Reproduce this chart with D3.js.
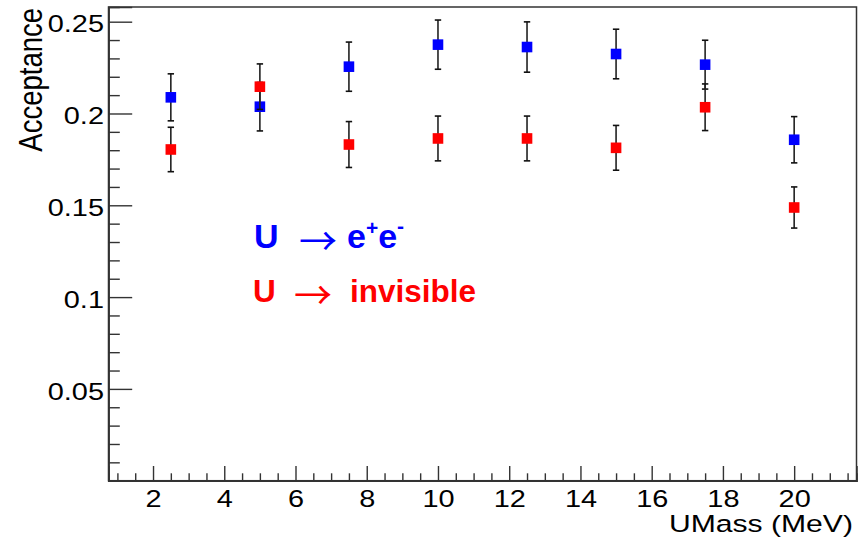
<!DOCTYPE html>
<html>
<head>
<meta charset="utf-8">
<script src="https://cdn.jsdelivr.net/npm/d3@7"></script>
<style>
  html, body { margin: 0; padding: 0; background: #fff; }
  svg { display: block; }
  text { font-family: "Liberation Sans", Arial, Helvetica, sans-serif; }
</style>
</head>
<body>
<svg id="chart" width="867" height="540"></svg>
<script>
// ---- data ----
const masses = [2.5, 5, 7.5, 10, 12.5, 15, 17.5, 20];
const eeAcc  = [0.2088, 0.2037, 0.2255, 0.2375, 0.2362, 0.2324, 0.2266, 0.1857];
const eeErr  = [0.0128, 0.0132, 0.0134, 0.0134, 0.0137, 0.0135, 0.0133, 0.0126];
const invAcc = [0.1804, 0.2146, 0.1831, 0.1864, 0.1864, 0.1813, 0.2034, 0.1488];
const invErr = [0.0121, 0.0124, 0.0125, 0.0122, 0.0122, 0.0122, 0.0127, 0.0112];
const xMajorTicks = [2, 4, 6, 8, 10, 12, 14, 16, 18, 20];
const yMajorTicks = [0.05, 0.1, 0.15, 0.2, 0.25];
const yTickLabels = ["0.05", "0.1", "0.15", "0.2", "0.25"];
const xTitle = "UMass (MeV)";
const yTitle = "Acceptance";

// ---- layout ----
const L = 108.5, R = 856.5, T = 7, B = 480.7;
const stretch = 1.23;
const svg = d3.select("#chart");

const x = d3.scaleLinear().domain([0.75, 21.75]).range([L, R]);
const y = d3.scaleLinear().domain([0, 0.258]).range([B, T]);

const xMinor = d3.range(1, 21.51, 0.5).filter(v => Math.abs(v / 2 - Math.round(v / 2)) > 1e-6);
const yMinor = d3.range(0.01, 0.2551, 0.01).filter(v => Math.abs(v / 0.05 - Math.round(v / 0.05)) > 1e-6);

// frame
svg.append("rect")
  .attr("x", L).attr("y", T).attr("width", R - L).attr("height", B - T)
  .attr("fill", "none").attr("stroke", "#333").attr("stroke-width", 1.5);

// x axis
const gx = svg.append("g").attr("transform", `translate(0,${B})`);
gx.append("g").call(d3.axisBottom(x).tickValues(xMinor).tickSize(-7.4).tickFormat(""));
gx.append("g").call(d3.axisBottom(x).tickValues(xMajorTicks).tickSize(-14.7).tickPadding(9.3).tickFormat(d3.format("d")));
gx.selectAll(".domain").attr("stroke", "#333").attr("stroke-width", 1.5);
gx.selectAll(".tick line").attr("stroke", "#333").attr("stroke-width", 1.4);
gx.selectAll(".tick text")
  .attr("font-size", 23.5).attr("fill", "#000")
  .attr("font-family", "Liberation Sans, Arial, sans-serif")
  .attr("transform", `scale(${stretch},1)`);

// y axis
const gy = svg.append("g").attr("transform", `translate(${L},0)`);
gy.append("g").call(d3.axisLeft(y).tickValues(yMinor).tickSize(-11.3).tickFormat(""));
gy.append("g").call(d3.axisLeft(y).tickValues(yMajorTicks).tickSize(-23.7).tickPadding(3.7)
  .tickFormat((d, i) => yTickLabels[i]));
gy.selectAll(".domain").attr("stroke", "#333").attr("stroke-width", 1.5);
gy.selectAll(".tick line").attr("stroke", "#333").attr("stroke-width", 1.4);
gy.selectAll(".tick text")
  .attr("font-size", 23.5).attr("fill", "#000").attr("dy", "0.43em")
  .attr("font-family", "Liberation Sans, Arial, sans-serif")
  .attr("transform", `scale(${stretch},1)`);

// axis titles
svg.append("text")
  .attr("transform", `translate(853,532) scale(${stretch},1)`)
  .attr("text-anchor", "end").attr("font-size", 24.5).attr("fill", "#000")
  .text(xTitle);
svg.append("text")
  .attr("transform", `translate(42,8) scale(${stretch},1) rotate(-90)`)
  .attr("text-anchor", "end").attr("font-size", 27.5).attr("fill", "#000")
  .text(yTitle);

// series
function drawSeries(vals, errs, color) {
  const data = masses.map((m, i) => ({ m, v: vals[i], e: errs[i] }));
  const g = svg.append("g");
  const eb = g.selectAll("g.eb").data(data).join("g").attr("class", "eb");
  eb.append("line")
    .attr("x1", d => x(d.m)).attr("x2", d => x(d.m))
    .attr("y1", d => y(d.v - d.e)).attr("y2", d => y(d.v + d.e))
    .attr("stroke", "#222").attr("stroke-width", 1.6);
  [-1, 1].forEach(s => {
    eb.append("line")
      .attr("x1", d => x(d.m) - 3.2).attr("x2", d => x(d.m) + 3.2)
      .attr("y1", d => y(d.v + s * d.e)).attr("y2", d => y(d.v + s * d.e))
      .attr("stroke", "#111").attr("stroke-width", 1.6);
  });
  g.selectAll("rect").data(data).join("rect")
    .attr("x", d => x(d.m) - 5.3).attr("y", d => y(d.v) - 5.3)
    .attr("width", 10.6).attr("height", 10.6)
    .attr("fill", color);
}
drawSeries(eeAcc, eeErr, "#0000ff");
drawSeries(invAcc, invErr, "#ff0000");

// legend texts
const arrowFont = "Noto Sans CJK JP, Noto Sans CJK SC, DejaVu Sans, sans-serif";
const t1 = svg.append("text").attr("x", 254).attr("y", 248)
  .attr("font-size", 34).attr("font-weight", "bold").attr("fill", "#0000ff");
t1.append("tspan").text("U");
t1.append("tspan").attr("x", 299).attr("dy", 7).attr("font-family", arrowFont)
  .attr("font-weight", "normal").attr("font-size", 38).text("→");
t1.append("tspan").attr("x", 347).attr("dy", -7).text("e");
t1.append("tspan").attr("dy", -13).attr("font-size", 21).text("+");
t1.append("tspan").attr("dy", 13).text("e");
t1.append("tspan").attr("dy", -15).attr("font-size", 21).text("-");

const t2 = svg.append("text").attr("x", 253).attr("y", 301.5)
  .attr("font-size", 31.5).attr("font-weight", "bold").attr("fill", "#ff0000");
t2.append("tspan").text("U");
t2.append("tspan").attr("x", 294).attr("dy", 7).attr("font-family", arrowFont)
  .attr("font-weight", "normal").attr("font-size", 38).text("→");
t2.append("tspan").attr("x", 350).attr("dy", -7).text("invisible");
</script>
</body>
</html>
